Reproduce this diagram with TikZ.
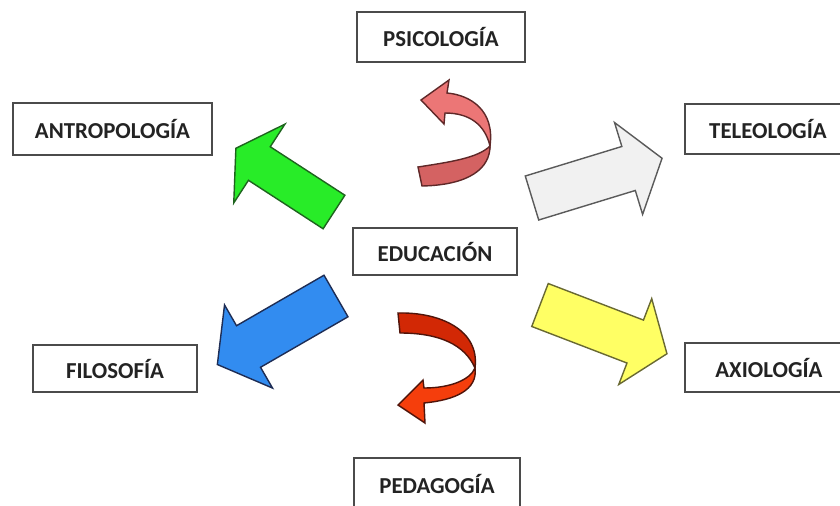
\documentclass[tikz,border=0pt]{standalone}
\usepackage{fontspec}
\setmainfont{Carlito}
\usepackage{tikz}

\definecolor{boxline}{RGB}{75,75,75}
\definecolor{boxtext}{RGB}{35,35,35}
\definecolor{greenfill}{RGB}{40,236,40}
\definecolor{greenline}{RGB}{30,100,30}
\definecolor{grayfill}{RGB}{241,241,241}
\definecolor{grayline}{RGB}{90,90,90}
\definecolor{yellowfill}{RGB}{255,255,100}
\definecolor{yellowline}{RGB}{105,105,50}
\definecolor{bluefill}{RGB}{50,140,240}
\definecolor{blueline}{RGB}{30,45,85}
\definecolor{pinkfront}{RGB}{236,118,118}
\definecolor{pinkback}{RGB}{212,98,98}
\definecolor{pinkline}{RGB}{95,40,40}
\definecolor{redfront}{RGB}{245,62,12}
\definecolor{redback}{RGB}{210,40,5}
\definecolor{redline}{RGB}{80,20,10}

\begin{document}
\begin{tikzpicture}[x=0.02cm,y=-0.02cm,
  box/.style={draw=boxline,line width=1.1pt,fill=white,inner sep=0pt,
    font=\fontsize{13}{15}\selectfont\bfseries,text=boxtext},
  blockarrow/.style={line width=0.8pt,line join=miter}]
\useasboundingbox (0,0) rectangle (840,505);
\clip (0,0) rectangle (840,505);

% straight arrows
\draw[blockarrow,fill=greenfill,draw=greenline,shift={(334,212)},rotate=147]
  (0,-20) -- (89,-20) -- (89,-47) -- (117,0) -- (89,47) -- (89,20) -- (0,20) -- cycle;
\draw[blockarrow,fill=grayfill,draw=grayline,shift={(532,198)},rotate=17]
  (0,-23) -- (101,-23) -- (101,-48) -- (136,0) -- (101,48) -- (101,23) -- (0,23) -- cycle;
\draw[blockarrow,fill=yellowfill,draw=yellowline,shift={(540,305)},rotate=-21]
  (0,-23) -- (102,-23) -- (102,-46) -- (136,0) -- (102,46) -- (102,23) -- (0,23) -- cycle;
\draw[blockarrow,fill=bluefill,draw=blueline,shift={(336,296)},rotate=210]
  (0,-24) -- (101,-24) -- (101,-48) -- (137,0) -- (101,48) -- (101,24) -- (0,24) -- cycle;

% curved arrows
\draw[blockarrow,fill=pinkback,draw=pinkline]
  (418,167) .. controls (450,162) and (478,158) .. (490,146)
  .. controls (490,168) and (470,185) .. (422,186) -- cycle;
\draw[blockarrow,fill=pinkfront,draw=pinkline]
  (447,93) .. controls (470,95) and (495,110) .. (490,146)
  .. controls (485,125) and (470,113) .. (445,113)
  -- (444,124) -- (421,100) -- (449,80) -- cycle;
\draw[blockarrow,fill=redback,draw=redline]
  (398,313) .. controls (440,312) and (480,330) .. (475,368)
  .. controls (465,345) and (440,333) .. (400,333) -- cycle;
\draw[blockarrow,fill=redfront,draw=redline]
  (424,388) .. controls (450,388) and (470,380) .. (475,368)
  .. controls (478,390) and (455,400) .. (424,403)
  -- (425,423) -- (398,405) -- (423,380) -- cycle;

% boxes
\node[box,minimum width=3.36cm,minimum height=1.0cm] (psico) at (441,37) {PSICOLOGÍA};
\node[box,minimum width=3.98cm,minimum height=1.04cm] (antropo) at (112.5,129) {ANTROPOLOGÍA};
\node[box,minimum height=1.0cm,anchor=west] (teleo) at (684,129)
  {\makebox[3.32cm]{TELEOLOGÍA}\hspace{0.4cm}};
\node[box,minimum width=3.28cm,minimum height=0.94cm] (educ) at (435,251.5) {EDUCACIÓN};
\node[box,minimum width=3.28cm,minimum height=0.94cm] (filo) at (115,368.5) {FILOSOFÍA};
\node[box,minimum height=0.98cm,anchor=west] (axio) at (684,367.5)
  {\makebox[3.36cm]{AXIOLOGÍA}\hspace{0.4cm}};
\node[box,minimum width=3.32cm,minimum height=1.04cm] (pedago) at (437,484) {PEDAGOGÍA};

\end{tikzpicture}
\end{document}
